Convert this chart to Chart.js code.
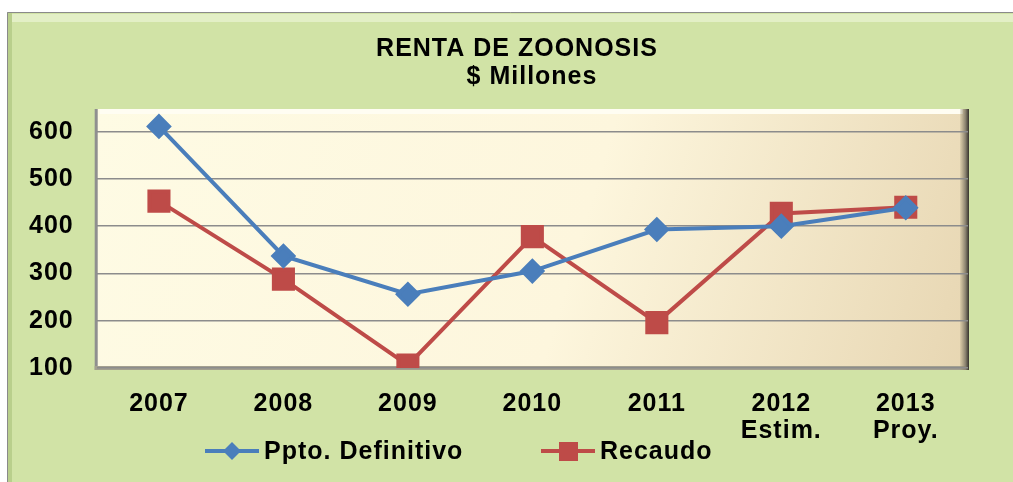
<!DOCTYPE html>
<html>
<head>
<meta charset="utf-8">
<script src="https://cdn.jsdelivr.net/npm/chart.js@4/dist/chart.umd.min.js"></script>
<style>
  html, body { margin: 0; padding: 0; background: #ffffff; }
  #wrap { width: 1013px; height: 482px; }
</style>
</head>
<body>
<div id="wrap"><canvas id="renta"></canvas></div>
<script>
const years = [['2007'], ['2008'], ['2009'], ['2010'], ['2011'], ['2012', 'Estim.'], ['2013', 'Proy.']];
const ppto_definitivo = [611, 337, 256, 305, 393, 400, 439];
const recaudo = [453, 288, 106, 378, 196, 427, 440];
const y_ticks = [100, 200, 300, 400, 500, 600];
const title_lines = ['RENTA DE ZOONOSIS', '$ Millones'];

const font_family = '"Liberation Sans", Arial, sans-serif';

// the original text is wide, so add a bit of spacing to every glyph
function set_spacing(chart) {
    chart.ctx.letterSpacing = '1px';
}

// background frame, plot area fill and bevels, title and legend
const frame_plugin = {
    id: 'frame',
    beforeUpdate(chart) { set_spacing(chart); },
    beforeDraw(chart) {
        set_spacing(chart);
        const ctx = chart.ctx;
        const a = chart.chartArea;
        ctx.save();
        // outer green box
        ctx.fillStyle = '#d1e3a6';
        ctx.fillRect(7, 12, chart.width - 7, chart.height - 12);
        ctx.fillStyle = '#b9cf8c';
        ctx.fillRect(7, 12, 5, chart.height - 12);
        ctx.fillStyle = '#e3efc6';
        ctx.fillRect(12, 14, chart.width - 12, 8);
        ctx.strokeStyle = '#8a8a8a';
        ctx.lineWidth = 1;
        ctx.beginPath();
        ctx.moveTo(7.5, chart.height);
        ctx.lineTo(7.5, 12.5);
        ctx.lineTo(chart.width, 12.5);
        ctx.stroke();

        // plot area gradient
        const top = a.top + 1;
        const g = ctx.createLinearGradient(a.left, top, a.right, a.bottom);
        g.addColorStop(0, '#fefbe4');
        g.addColorStop(0.55, '#fdf6dd');
        g.addColorStop(1, '#e7d6b2');
        ctx.fillStyle = g;
        ctx.fillRect(a.left, top, a.right - a.left, a.bottom - top);
        ctx.fillStyle = '#fffdf2';
        ctx.fillRect(a.left + 3, top, a.right - a.left - 8, 5);
        // left bevel
        ctx.fillStyle = '#8f8f8f';
        ctx.fillRect(a.left - 2, top, 3, a.bottom - top + 2);
        // bottom bevel
        ctx.fillStyle = '#a3a08f';
        ctx.fillRect(a.left - 2, a.bottom - 2, a.right - a.left + 2, 4);
        // right bevel
        const rg = ctx.createLinearGradient(a.right - 8, 0, a.right + 1, 0);
        rg.addColorStop(0, 'rgba(150,140,110,0.15)');
        rg.addColorStop(0.6, '#8c8471');
        rg.addColorStop(1, '#36332c');
        ctx.fillStyle = rg;
        ctx.fillRect(a.right - 8, top, 9, a.bottom - top + 2);
        ctx.restore();
    },
    afterDraw(chart) {
        const ctx = chart.ctx;
        ctx.save();
        ctx.fillStyle = '#000000';
        ctx.letterSpacing = '1px';
        ctx.font = 'bold 25px ' + font_family;
        ctx.textAlign = 'center';
        ctx.textBaseline = 'middle';
        ctx.fillText(title_lines[0], 517, 49);
        ctx.fillText(title_lines[1], 532, 77);

        // legend: line + marker + label
        const items = [
            { x: 205, ds: chart.data.datasets[0] },
            { x: 541, ds: chart.data.datasets[1] }
        ];
        const ly = 451;
        items.forEach(it => {
            ctx.strokeStyle = it.ds.borderColor;
            ctx.lineWidth = 4;
            ctx.beginPath();
            ctx.moveTo(it.x, ly);
            ctx.lineTo(it.x + 54, ly);
            ctx.stroke();
            ctx.fillStyle = it.ds.backgroundColor;
            const cx = it.x + 27;
            if (it.ds.pointStyle === 'rectRot') {
                ctx.beginPath();
                ctx.moveTo(cx, ly - 9);
                ctx.lineTo(cx + 9, ly);
                ctx.lineTo(cx, ly + 9);
                ctx.lineTo(cx - 9, ly);
                ctx.closePath();
                ctx.fill();
            } else {
                ctx.fillRect(cx - 9, ly - 9, 19, 19);
            }
            ctx.fillStyle = '#000000';
            ctx.textAlign = 'left';
            ctx.font = 'bold 25px ' + font_family;
            ctx.fillText(it.ds.label, it.x + 59, ly + 1);
        });
        ctx.restore();
    }
};

const chart = new Chart(document.getElementById('renta').getContext('2d'), {
    type: 'line',
    data: {
        labels: years,
        datasets: [{
            label: 'Ppto. Definitivo',
            data: ppto_definitivo,
            borderColor: '#4a7ebb',
            backgroundColor: '#4a7ebb',
            borderWidth: 4,
            pointStyle: 'rectRot',
            pointRadius: 10,
            pointHoverRadius: 10,
            tension: 0,
            fill: false
        }, {
            label: 'Recaudo',
            data: recaudo,
            borderColor: '#be4b48',
            backgroundColor: '#be4b48',
            borderWidth: 4,
            pointStyle: 'rect',
            pointRadius: 13.5,
            pointHoverRadius: 13.5,
            tension: 0,
            fill: false
        }]
    },
    options: {
        responsive: true,
        maintainAspectRatio: false,
        animation: false,
        layout: {
            padding: { left: 6, right: 45, top: 108, bottom: 15 }
        },
        scales: {
            x: {
                offset: true,
                grid: { display: false, drawTicks: false },
                border: { display: false },
                ticks: {
                    color: '#000000',
                    padding: 22,
                    maxRotation: 0,
                    font: { family: font_family, size: 25, weight: 'bold', lineHeight: 1.1 }
                }
            },
            y: {
                min: 100,
                max: 650,
                afterBuildTicks: (scale) => {
                    scale.ticks = y_ticks.map(v => ({ value: v }));
                },
                grid: { color: '#8c8c8c', lineWidth: 1.5, drawTicks: false },
                border: { display: false },
                ticks: {
                    color: '#000000',
                    padding: 23,
                    font: { family: font_family, size: 25, weight: 'bold' }
                }
            }
        },
        plugins: {
            legend: { display: false },
            title: { display: false },
            tooltip: { enabled: false }
        }
    },
    plugins: [frame_plugin]
});
</script>
</body>
</html>
